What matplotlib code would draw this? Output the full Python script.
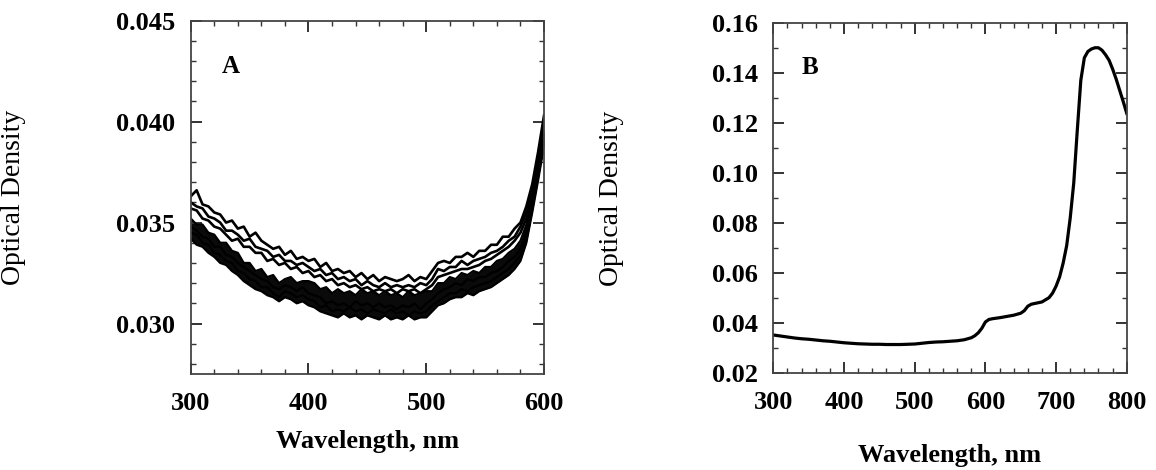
import numpy as np
import matplotlib
matplotlib.use('Agg')
import matplotlib.pyplot as plt
from matplotlib.ticker import MultipleLocator

plt.rcParams['font.family'] = ['Liberation Serif', 'DejaVu Serif']

#Panel A: overlaid spectra, OD in units of 1e-4, every 5 nm from 300 to 600
wl_a = list(range(300, 601, 5))

#upper group of spectra
od_a1 = [363,366,359,358,355,354,350,351,347,348,343,345,341,339,337,338,334,336,332,333,
	331,332,328,330,326,327,325,326,323,325,322,324,321,323,322,321,322,324,321,323,
	322,326,330,331,330,333,333,335,333,336,336,339,339,343,343,347,350,358,369,385,403]
od_a2 = [360,358,357,353,352,350,346,346,344,341,342,338,337,336,333,334,331,331,329,330,
	328,326,327,324,325,322,323,321,322,319,321,319,318,320,318,319,318,319,318,320,
	319,322,327,326,328,328,331,329,331,332,333,335,336,338,341,343,348,355,366,381,400]
od_a3 = [357,356,352,351,348,347,344,341,342,338,338,335,335,331,332,329,330,327,328,325,
	326,323,324,321,322,319,320,318,319,317,318,316,317,316,317,315,317,316,317,315,
	317,319,323,324,325,326,327,327,328,329,331,332,334,336,338,341,345,352,363,378,397]
#lower (dense) group of spectra
od_b1 = [352,349,349,345,344,340,340,336,335,330,330,326,327,323,324,320,322,323,320,321,
	321,320,317,318,315,317,315,316,314,317,315,316,314,316,314,315,313,316,314,315,
	316,316,320,320,323,322,325,324,326,325,328,328,331,332,335,337,341,349,362,378,396]
od_b2 = [348,346,343,342,338,338,334,333,330,328,326,324,322,321,318,317,319,318,316,318,
	315,314,313,310,311,309,310,308,311,309,310,308,310,308,309,307,309,308,310,307,
	310,312,315,317,318,320,319,322,321,323,323,325,326,328,331,333,337,346,359,375,393]
od_b3 = [345,344,340,339,335,334,331,330,326,325,322,321,318,318,315,313,316,315,313,314,
	312,311,308,309,306,307,306,308,306,307,305,307,306,305,307,305,306,304,306,305,
	306,309,311,313,315,315,317,316,318,319,320,321,323,325,327,330,334,343,357,373,390]
od_b4 = [342,339,338,335,333,330,329,326,324,321,319,317,316,314,313,311,313,312,310,311,
	309,308,306,305,304,303,305,303,304,302,304,303,302,304,302,303,302,304,302,303,
	303,306,309,310,312,313,313,315,314,316,317,318,320,322,324,327,331,340,355,371,388]

upper_a = [od_a1, od_a2, od_a3]
lower_a = [od_b1, od_b2, od_b3, od_b4]

#Panel B: single spectrum
wl_b = [300,310,320,330,340,350,360,370,380,390,400,410,420,430,440,450,460,470,480,490,
	500,510,520,530,540,550,560,570,580,585,590,595,600,605,610,620,630,640,650,655,
	660,665,670,680,690,695,700,705,710,715,720,725,730,735,740,745,750,755,760,765,
	770,775,780,785,790,795,800]
od_b = [0.0353,0.0349,0.0345,0.0341,0.0338,0.0336,0.0333,0.0330,0.0328,0.0325,
	0.0322,0.0320,0.0318,0.0317,0.0316,0.0316,0.0315,0.0315,0.0315,0.0316,
	0.0317,0.0320,0.0323,0.0325,0.0326,0.0328,0.0330,0.0334,0.0342,0.0350,
	0.0362,0.0380,0.0405,0.0415,0.0418,0.0422,0.0427,0.0432,0.0440,0.0450,
	0.0468,0.0476,0.0479,0.0485,0.0502,0.0520,0.0548,0.0585,0.0640,0.0710,
	0.0820,0.0960,0.1170,0.1370,0.1460,0.1485,0.1495,0.1500,0.1500,0.1490,
	0.1472,0.1450,0.1415,0.1375,0.1330,0.1285,0.1238]

ticks_a = [0.030, 0.035, 0.040, 0.045]
ticks_b = [0.02, 0.04, 0.06, 0.08, 0.10, 0.12, 0.14, 0.16]

fig = plt.figure(figsize=(11.56, 4.70), dpi=100)
axA = fig.add_axes([0.165, 0.2043, 0.3056, 0.7517])
axB = fig.add_axes([0.669, 0.2057, 0.3057, 0.746])

#dense lower band
axA.fill_between(wl_a, np.array(od_b4)*1e-4, np.array(od_b1)*1e-4, color='#0a0a0a', lw=0)
for c in lower_a:
	axA.plot(wl_a, np.array(c)*1e-4, 'k', lw=1.6)
for c in upper_a:
	axA.plot(wl_a, np.array(c)*1e-4, 'k', lw=1.9)
axB.plot(wl_b, od_b, 'k', lw=2.3)

def style(ax, xmaj, xmin, ymin, fmt):
	ax.xaxis.set_major_locator(MultipleLocator(xmaj))
	ax.xaxis.set_minor_locator(MultipleLocator(xmin))
	ax.yaxis.set_minor_locator(MultipleLocator(ymin))
	ax.tick_params(which='both', direction='in', top=True, right=True, color='#333333')
	ax.tick_params(which='major', length=8, width=1.4)
	ax.tick_params(which='minor', length=3.5, width=1.0)
	ax.tick_params(axis='x', which='major', pad=13)
	ax.tick_params(axis='y', which='major', pad=11)
	for s in ax.spines.values():
		s.set_linewidth(1.3)
		s.set_color('#444444')
	ax.set_yticklabels([fmt % t for t in ax.get_yticks()])
	for lab in ax.get_xticklabels() + ax.get_yticklabels():
		lab.set_fontsize(19)
		lab.set_fontweight('bold')

axA.set_xlim(300, 600)
axA.set_ylim(0.0275, 0.045)
axA.set_yticks(ticks_a)
style(axA, 100, 20, 0.001, '%.3f')

axB.set_xlim(300, 800)
axB.set_ylim(0.02, 0.16)
axB.set_yticks(ticks_b)
style(axB, 100, 20, 0.01, '%.2f')

axA.set_ylabel('Optical Density', fontsize=20)
axA.yaxis.set_label_coords(-0.466, 0.5)
axB.set_ylabel('Optical Density', fontsize=20)
axB.yaxis.set_label_coords(-0.424, 0.5)

axA.set_xlabel('Wavelength, nm', fontsize=19, fontweight='bold')
axA.xaxis.set_label_coords(0.5, -0.192)
axA.xaxis.label.set_verticalalignment('center')
axB.set_xlabel('Wavelength, nm', fontsize=19, fontweight='bold')
axB.xaxis.set_label_coords(0.5, -0.233)
axB.xaxis.label.set_verticalalignment('center')

axA.text(0.0886, 0.852, 'A', transform=axA.transAxes, fontsize=18, fontweight='bold', va='baseline')
axB.text(0.080, 0.854, 'B', transform=axB.transAxes, fontsize=18, fontweight='bold', va='baseline')

fig.savefig('out.png', dpi=100)
plt.close()
